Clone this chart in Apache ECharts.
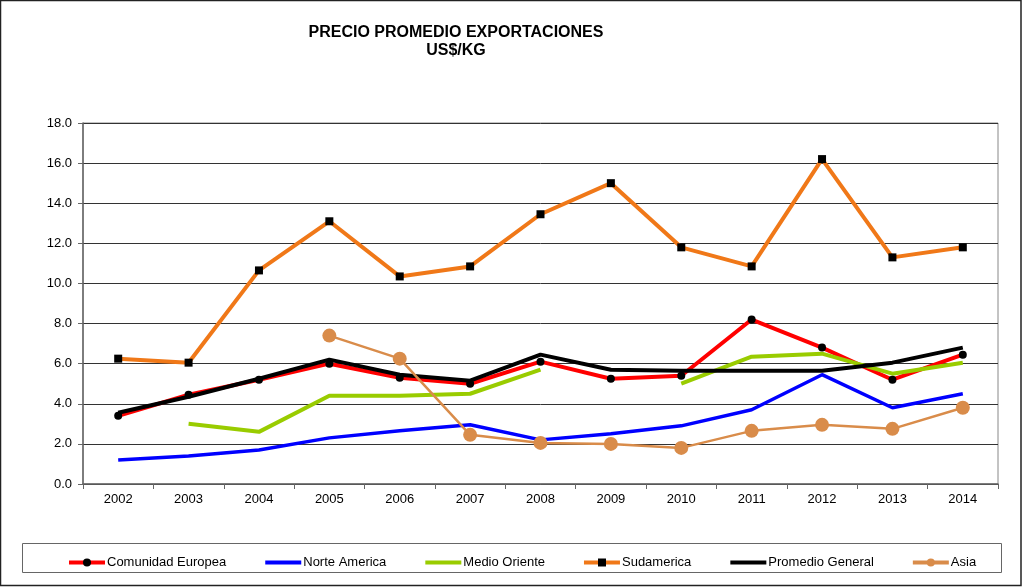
<!DOCTYPE html>
<html><head><meta charset="utf-8">
<script src="https://cdn.jsdelivr.net/npm/echarts@6/dist/echarts.min.js"></script>
<style>html,body{margin:0;padding:0;background:#fff}#c{width:1024px;height:588px}</style>
</head><body><div id="c"></div>
<script>
const years = ['2002','2003','2004','2005','2006','2007','2008','2009','2010','2011','2012','2013','2014'];
const comunidadEuropea = [3.4,4.45,5.2,6.0,5.3,5.0,6.1,5.25,5.4,8.2,6.8,5.2,6.45];
const norteAmerica = [1.2,1.4,1.7,2.3,2.65,2.95,2.2,2.5,2.9,3.7,5.45,3.8,4.5];
const medioOriente = [null,3.0,2.6,4.4,4.4,4.5,5.7,null,5.0,6.35,6.5,5.5,6.05];
const sudamerica = [6.25,6.05,10.65,13.1,10.35,10.85,13.45,15.0,11.8,10.85,16.2,11.3,11.8];
const promedioGeneral = [3.55,4.35,5.25,6.2,5.45,5.15,6.45,5.7,5.65,5.65,5.65,6.05,6.8];
const asia = [null,null,null,7.4,6.25,2.45,2.05,2.0,1.8,2.65,2.95,2.75,3.8];

const font = 'Liberation Sans, Arial, sans-serif';
const chart = echarts.init(document.getElementById('c'));
const hide = {opacity:0};
chart.setOption({
  animation:false,
  backgroundColor:'#fff',
  title:{text:'PRECIO PROMEDIO EXPORTACIONES\nUS$/KG',left:451,top:19,textAlign:'center',
    textStyle:{fontFamily:font,fontWeight:'bold',fontSize:16,lineHeight:18,color:'#000'}},
  graphic:[
    {type:'rect',shape:{x:0.5,y:0.5,width:1020.5,height:585},style:{fill:'none',stroke:'#222',lineWidth:1.5},silent:true},
    {type:'rect',shape:{x:22.5,y:543.5,width:979,height:29},style:{fill:'none',stroke:'#666',lineWidth:1},silent:true}
  ],
  legend:{left:62,top:551,itemGap:37,itemWidth:36,itemHeight:10,
    lineStyle:{width:4},
    textStyle:{fontFamily:font,fontSize:13,color:'#000',padding:[0,0,0,-3]},
    data:[
      {name:'Comunidad Europea'},
      {name:'Norte America',itemStyle:hide},
      {name:'Medio Oriente',itemStyle:hide},
      {name:'Sudamerica'},
      {name:'Promedio General',itemStyle:hide},
      {name:'Asia'}
    ]},
  grid:{left:83,top:123,right:26,bottom:104,show:true,borderColor:'#888',borderWidth:1},
  xAxis:{type:'category',data:years,boundaryGap:true,
    axisLine:{lineStyle:{color:'#666',width:1.5}},
    axisTick:{show:true,length:5,lineStyle:{color:'#666'}},
    axisLabel:{fontFamily:font,fontSize:13,color:'#000',margin:9}},
  yAxis:{type:'value',min:0,max:18,interval:2,
    axisLine:{show:true,lineStyle:{color:'#666',width:1.5}},
    axisTick:{show:true,length:5,lineStyle:{color:'#666'}},
    axisLabel:{fontFamily:font,fontSize:13,color:'#000',formatter:v=>v.toFixed(1),margin:11},
    splitLine:{lineStyle:{color:'#333',width:1}}},
  series:[
    {name:'Comunidad Europea',type:'line',data:comunidadEuropea,color:'#ff0000',
      lineStyle:{width:4,color:'#ff0000'},symbol:'circle',symbolSize:8,itemStyle:{color:'#000'}},
    {name:'Norte America',type:'line',data:norteAmerica,color:'#0000ff',
      lineStyle:{width:3.5,color:'#0000ff'},symbol:'none'},
    {name:'Medio Oriente',type:'line',data:medioOriente,color:'#99cc00',
      lineStyle:{width:4,color:'#99cc00'},symbol:'none'},
    {name:'Sudamerica',type:'line',data:sudamerica,color:'#f07818',
      lineStyle:{width:4,color:'#f07818'},symbol:'rect',symbolSize:8,itemStyle:{color:'#000'}},
    {name:'Promedio General',type:'line',data:promedioGeneral,color:'#000',
      lineStyle:{width:4,color:'#000'},symbol:'none'},
    {name:'Asia',type:'line',data:asia,color:'#d98c4a',
      lineStyle:{width:2.5,color:'#d98c4a'},symbol:'circle',symbolSize:14,itemStyle:{color:'#d98c4a'}}
  ]
});
</script></body></html>
